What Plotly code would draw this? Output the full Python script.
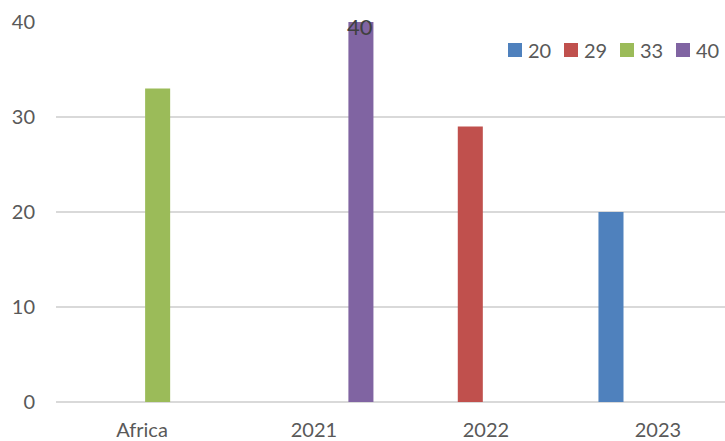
import plotly.graph_objects as go

categories = ["Africa", "2021", "2022", "2023"]
series_names = ["20", "29", "33", "40"]
values_20 = [None, None, None, 20]
values_29 = [None, None, 29, None]
values_33 = [33, None, None, None]
values_40 = [None, 40, None, None]
colors = ["#4F81BD", "#C0504D", "#9BBB59", "#8064A2"]
y_ticks = [0, 10, 20, 30, 40]

all_values = [values_20, values_29, values_33, values_40]

FONT = "Lato"
W, H = 725, 441
ML, MR, MT, MB = 56, 0, 22, 39
PW, PH = W - ML - MR, H - MT - MB

fig = go.Figure()
for name, vals, col in zip(series_names, all_values, colors):
    fig.add_trace(go.Bar(name=name, x=categories, y=vals, marker_color=col,
                         marker_line_width=0, showlegend=False))

# data label on the "40" series
lbl_idx = 1
fig.add_annotation(x=lbl_idx, y=values_40[lbl_idx], xref="x", yref="y",
                   text=str(values_40[lbl_idx]),
                   showarrow=False, xshift=46, yshift=-4, yanchor="middle",
                   font=dict(family=FONT, size=22, color="#404040"))

# legend (drawn manually: square swatch + series name)
def px_x(p):
    return (p - ML) / PW

def px_y(p):
    return 1 - (p - MT) / PH

leg_x0, leg_step, sw, leg_cy = 508, 56, 14, 50
for i, (name, col) in enumerate(zip(series_names, colors)):
    x0 = leg_x0 + i * leg_step
    fig.add_shape(type="rect", xref="paper", yref="paper",
                  x0=px_x(x0), x1=px_x(x0 + sw),
                  y0=px_y(leg_cy + sw / 2), y1=px_y(leg_cy - sw / 2),
                  fillcolor=col, line_width=0)
    fig.add_annotation(xref="paper", yref="paper", x=px_x(x0 + sw + 4), y=px_y(leg_cy),
                       xanchor="left", yanchor="middle", showarrow=False,
                       text=name, font=dict(family=FONT, size=20, color="#595959"))

fig.update_layout(
    width=W, height=H,
    margin=dict(l=ML, r=MR, t=MT, b=MB),
    paper_bgcolor="white", plot_bgcolor="white",
    barmode="group", bargap=0.272, bargroupgap=0.2,
    font=dict(family=FONT, size=20, color="#595959"),
    showlegend=False,
    xaxis=dict(type="category", range=[-0.5, 3.39], showgrid=False, showline=False,
               ticks="", ticklabelstandoff=14, tickfont=dict(family=FONT, size=20, color="#595959")),
    yaxis=dict(range=[0, 40], tickvals=y_ticks, showgrid=True, gridcolor="#D9D9D9", gridwidth=1.5,
               zeroline=True, zerolinecolor="#D9D9D9", zerolinewidth=1.5, showline=False,
               ticks="", ticklabelstandoff=20, tickfont=dict(family=FONT, size=20, color="#595959")),
)

fig.write_html("out.html")
